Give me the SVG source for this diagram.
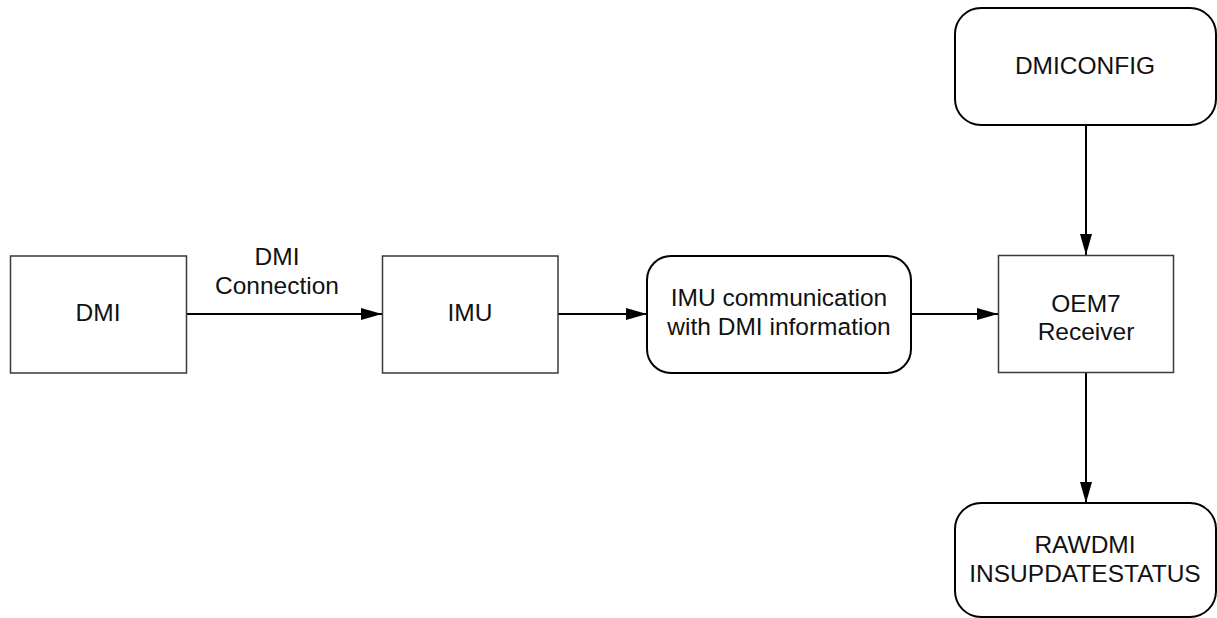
<svg xmlns="http://www.w3.org/2000/svg" width="1217" height="618" viewBox="0 0 1217 618">
<style>
.box{fill:#fff;stroke:#3a3a3a;stroke-width:1.5}
.rbox{fill:#fff;stroke:#000;stroke-width:2}
.t{font-family:"Liberation Sans",Arial,sans-serif;font-size:24.5px;fill:#111;text-anchor:middle}
.c{stroke:#000;stroke-width:2;fill:none;marker-end:url(#ah)}
</style>
<defs>
<marker id="ah" markerUnits="userSpaceOnUse" markerWidth="22" markerHeight="12" refX="21" refY="6" orient="auto">
<path d="M0,0 L21,6 L0,12 Z" fill="#000"/>
</marker>
</defs>
<rect width="1217" height="618" fill="#fff"/>
<g id="connectors">
<line class="c" x1="186" y1="314" x2="382" y2="314"/>
<line class="c" x1="558" y1="314" x2="647" y2="314"/>
<line class="c" x1="911" y1="314" x2="998" y2="314"/>
<line class="c" x1="1086" y1="125" x2="1086" y2="255"/>
<line class="c" x1="1086" y1="372" x2="1086" y2="503"/>
<text class="t" x="277" y="265">DMI</text>
<text class="t" x="277" y="294">Connection</text>
</g>
<g id="dmi">
<rect class="box" x="10.5" y="256" width="176" height="117"/>
<text class="t" x="98" y="321">DMI</text>
</g>
<g id="imu">
<rect class="box" x="382.5" y="256" width="175.5" height="117"/>
<text class="t" x="470" y="321">IMU</text>
</g>
<g id="imucomm">
<rect class="rbox" x="647" y="256" width="264" height="117" rx="24" ry="24"/>
<text class="t" x="779" y="306">IMU communication</text>
<text class="t" x="779" y="335">with DMI information</text>
</g>
<g id="oem7">
<rect class="box" x="998.5" y="255.5" width="175" height="117"/>
<text class="t" x="1086" y="312">OEM7</text>
<text class="t" x="1086" y="340">Receiver</text>
</g>
<g id="dmiconfig">
<rect class="rbox" x="955" y="8" width="261" height="117" rx="26" ry="26"/>
<text class="t" x="1085" y="74">DMICONFIG</text>
</g>
<g id="rawdmi">
<rect class="rbox" x="955" y="503" width="261" height="114" rx="26" ry="26"/>
<text class="t" x="1085" y="553">RAWDMI</text>
<text class="t" x="1085" y="582">INSUPDATESTATUS</text>
</g>
</svg>
